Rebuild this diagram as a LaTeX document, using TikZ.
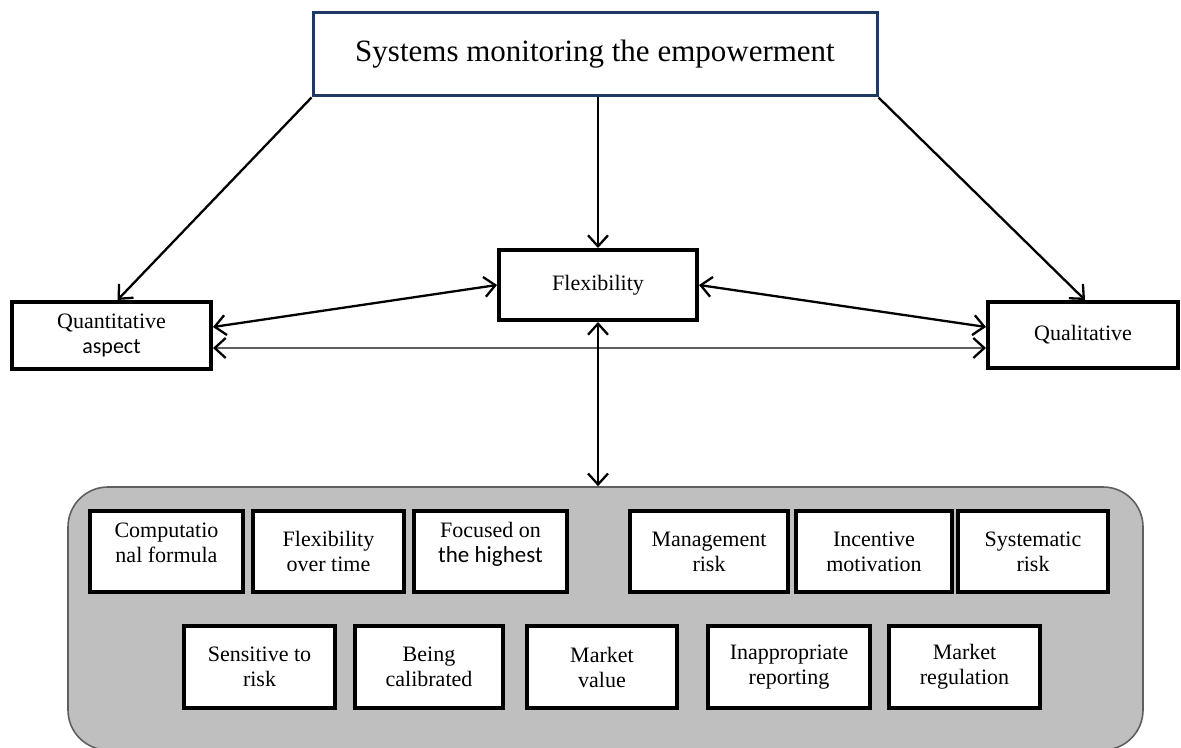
\documentclass[tikz,border=0pt]{standalone}
\usepackage{fontspec}
\setmainfont{Liberation Serif}
\newfontfamily\calibrifont{Carlito}
\usetikzlibrary{arrows.meta,calc}

\definecolor{navy}{RGB}{31,56,100}
\definecolor{panelgray}{RGB}{191,191,191}
\definecolor{rimgray}{RGB}{95,95,95}
\definecolor{linkgray}{RGB}{95,95,95}

\begin{document}
\begin{tikzpicture}[x=0.5pt,y=-0.5pt,
  box/.style={draw=black, line width=2pt, fill=white, inner sep=0pt,
    align=center, font=\fontsize{11}{12.5}\selectfont},
  headbox/.style={draw=navy, line width=1.5pt, fill=white, inner sep=0pt,
    font=\fontsize{15.5}{18}\selectfont},
  panel/.style={draw=rimgray, line width=0.8pt, fill=panelgray,
    rounded corners=20pt, inner sep=0pt},
  txt/.style={inner sep=0pt, align=center, font=\fontsize{11}{12.5}\selectfont},
  link/.style={line width=1.15pt, -{Straight Barb[length=5.5pt,width=10pt]}},
  dlink/.style={line width=1.15pt,
    {Straight Barb[length=5.5pt,width=10pt,color=black]}-{Straight Barb[length=5.5pt,width=10pt,color=black]}}
]
\useasboundingbox (0,0) rectangle (1181,748);

% grey panel holding the factor boxes
\node[panel, minimum width=537.5pt, minimum height=131.5pt] (panel) at (605.5,618.5) {};

% main boxes
\node[headbox, minimum width=282pt, minimum height=41.5pt] (top) at (595,54.5)
  {Systems monitoring the empowerment};
\node[box, minimum width=99pt, minimum height=35pt] (flex) at (598,285) {Flexibility};
\node[box, minimum width=99.5pt, minimum height=33.5pt] (quant) at (111.5,335.5)
  {Quantitative\\{\calibrifont aspect}};
\node[box, minimum width=95pt, minimum height=33pt] (qual) at (1083,335) {Qualitative};

% first row of factors
\node[box, minimum width=76.5pt, minimum height=40.5pt] (comp) at (166.5,551.5) {};
\node[txt] (comptxt) at (166.5,543) {Computatio\\nal formula};
\node[box, minimum width=75.5pt, minimum height=40.5pt] (flextime) at (328.5,551.5)
  {Flexibility\\over time};
\node[box, minimum width=76.5pt, minimum height=40.5pt] (focus) at (490.5,551.5) {};
\node[txt] (focustxt) at (490.5,544) {Focused on\\{\calibrifont\fontsize{11.5}{12.5}\selectfont the highest}};
\node[box, minimum width=79pt, minimum height=40.5pt] (mgmt) at (709,551.5)
  {Management\\risk};
\node[box, minimum width=78pt, minimum height=40.5pt] (incent) at (874,551.5)
  {Incentive\\motivation};
\node[box, minimum width=75pt, minimum height=40.5pt] (syst) at (1033,551.5)
  {Systematic\\risk};

% second row of factors
\node[box, minimum width=75.5pt, minimum height=41pt] (sens) at (259.5,667)
  {Sensitive to\\risk};
\node[box, minimum width=74pt, minimum height=41pt] (calib) at (429,667)
  {Being\\calibrated};
\node[box, minimum width=75pt, minimum height=41pt] (mval) at (602,667)
  {Market\\value};
\node[box, minimum width=81pt, minimum height=41pt] (inapp) at (789,667)
  {Inappropriate\\reporting};
\node[box, minimum width=75.5pt, minimum height=41pt] (mreg) at (964.5,667)
  {Market\\regulation};

% connectors
\draw[link] (top.south west) -- ([xshift=3pt]quant.north);
\draw[link] (flex.north |- top.south) -- (flex.north);
\draw[link] (top.south east) -- ([xshift=1pt]qual.north);
\draw[dlink] ([yshift=4.25pt]quant.east) -- (flex.west);
\draw[dlink] (flex.east) -- ([yshift=4pt]qual.west);
\draw[dlink, draw=linkgray] ([yshift=-6.25pt]quant.east) coordinate (qa)
  -- (qa -| qual.west);
\draw[dlink] (flex.south) -- (panel.north -| flex.south);
\end{tikzpicture}
\end{document}
